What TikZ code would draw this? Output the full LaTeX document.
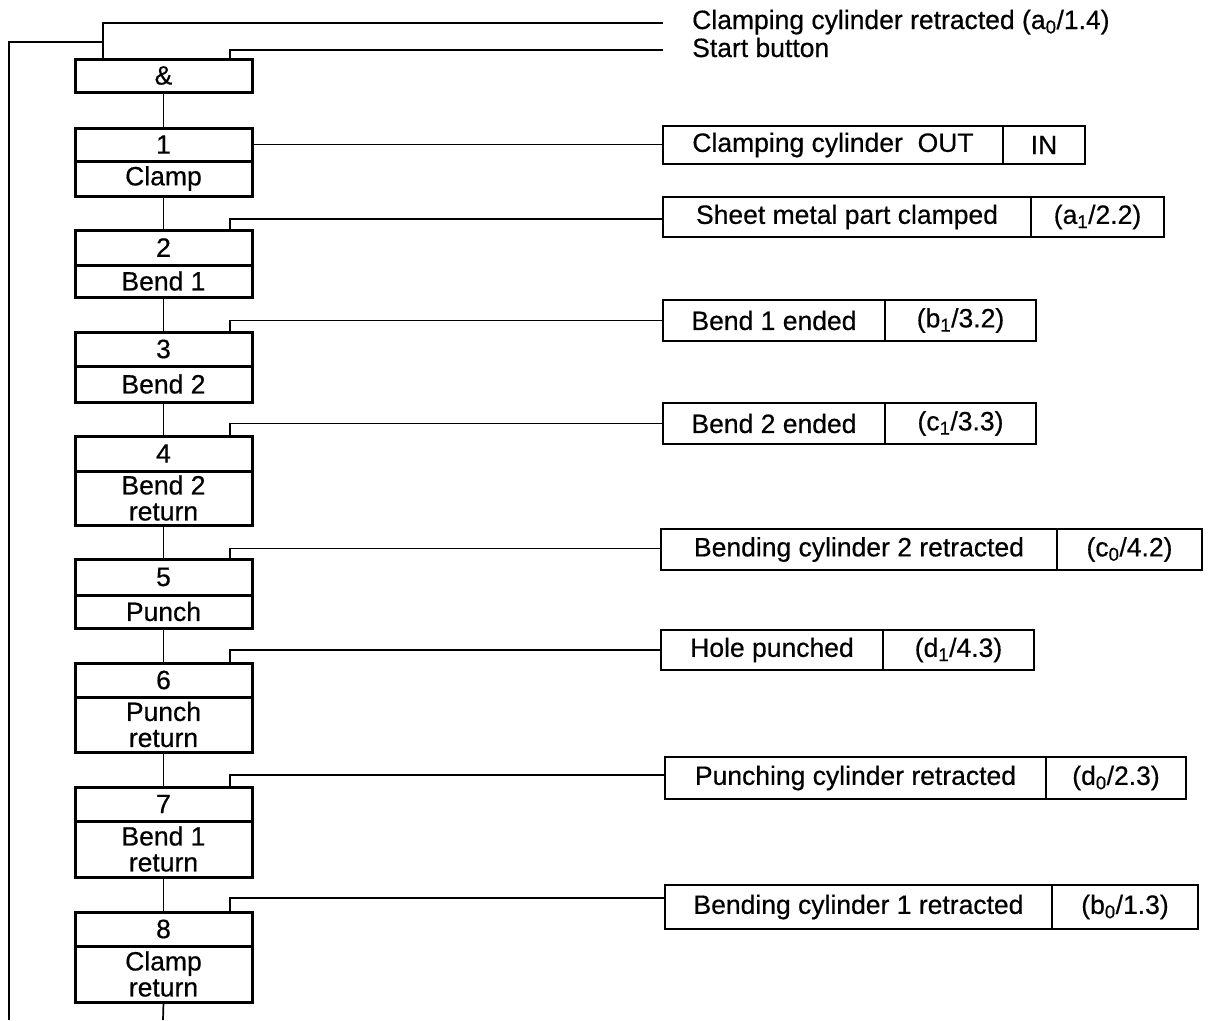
\documentclass[tikz,border=0pt]{standalone}
\usepackage{fontspec}
\setmainfont{Liberation Sans}[FakeBold=0.5]
\newcommand\dfont{\fontsize{26.5}{26}\selectfont}
\tikzset{
  every node/.style={font=\dfont},
  stepbox/.style={draw, line width=3pt, minimum width=177pt, inner sep=0pt, outer sep=0pt, anchor=north west, align=center},
  rbox/.style={draw, line width=2.8pt, inner sep=0pt, outer sep=0pt, anchor=north west, align=center},
  conn/.style={line width=1.7pt},
}
\begin{document}
\begin{tikzpicture}[x=1pt,y=-1pt]
\useasboundingbox (0,0) rectangle (1212,1020);
% step column
\node[stepbox, minimum height=33pt] (amp) at (75,59) {\&};
\node[stepbox, minimum height=33pt] (s1n) at (75,128) {1};
\node[stepbox, minimum height=35pt] (s1l) at (s1n.south west) {Clamp};
\node[stepbox, minimum height=35pt] (s2n) at (75,230) {2};
\node[stepbox, minimum height=32pt] (s2l) at (s2n.south west) {Bend 1};
\node[stepbox, minimum height=34pt] (s3n) at (75,332) {3};
\node[stepbox, minimum height=36pt] (s3l) at (s3n.south west) {Bend 2};
\node[stepbox, minimum height=35pt] (s4n) at (75,436) {4};
\node[stepbox, minimum height=54pt] (s4l) at (s4n.south west) {Bend 2\\return};
\node[stepbox, minimum height=36pt] (s5n) at (75,559) {5};
\node[stepbox, minimum height=33pt] (s5l) at (s5n.south west) {Punch};
\node[stepbox, minimum height=34pt] (s6n) at (75,663) {6};
\node[stepbox, minimum height=55pt] (s6l) at (s6n.south west) {Punch\\return};
\node[stepbox, minimum height=34pt] (s7n) at (75,787) {7};
\node[stepbox, minimum height=56pt] (s7l) at (s7n.south west) {Bend 1\\return};
\node[stepbox, minimum height=34pt] (s8n) at (75,912) {8};
\node[stepbox, minimum height=56pt] (s8l) at (s8n.south west) {Clamp\\return};
% vertical links
\draw[conn] (amp.south) -- (s1n.north);
\draw[conn] (s1l.south) -- (s2n.north);
\draw[conn] (s2l.south) -- (s3n.north);
\draw[conn] (s3l.south) -- (s4n.north);
\draw[conn] (s4l.south) -- (s5n.north);
\draw[conn] (s5l.south) -- (s6n.north);
\draw[conn] (s6l.south) -- (s7n.north);
\draw[conn] (s7l.south) -- (s8n.north);
\coordinate (bot) at (163,1020);
\draw[conn] (s8l.south) -- (bot);
% right boxes
\node[rbox, minimum width=340pt, minimum height=38pt] (r1a) at (663,126) {Clamping cylinder\ \ OUT};
\node[rbox, minimum width=82pt, minimum height=38pt] (r1b) at (r1a.north east) {IN};
\node[rbox, minimum width=368pt, minimum height=40pt] (r2a) at (663,197) {Sheet metal part clamped};
\node[rbox, minimum width=133pt, minimum height=40pt] (r2b) at (r2a.north east) {(a\textsubscript{1}/2.2)};
\node[rbox, minimum width=222pt, minimum height=41pt] (r3a) at (663,300) {Bend 1 ended};
\node[rbox, minimum width=151pt, minimum height=41pt] (r3b) at (r3a.north east) {(b\textsubscript{1}/3.2)};
\node[rbox, minimum width=222pt, minimum height=41pt] (r4a) at (663,403) {Bend 2 ended};
\node[rbox, minimum width=151pt, minimum height=41pt] (r4b) at (r4a.north east) {(c\textsubscript{1}/3.3)};
\node[rbox, minimum width=396pt, minimum height=41pt] (r5a) at (661,529) {Bending cylinder 2 retracted};
\node[rbox, minimum width=145pt, minimum height=41pt] (r5b) at (r5a.north east) {(c\textsubscript{0}/4.2)};
\node[rbox, minimum width=222pt, minimum height=40pt] (r6a) at (661,630) {Hole punched};
\node[rbox, minimum width=151pt, minimum height=40pt] (r6b) at (r6a.north east) {(d\textsubscript{1}/4.3)};
\node[rbox, minimum width=381pt, minimum height=42pt] (r7a) at (665,757) {Punching cylinder retracted};
\node[rbox, minimum width=140pt, minimum height=42pt] (r7b) at (r7a.north east) {(d\textsubscript{0}/2.3)};
\node[rbox, minimum width=387pt, minimum height=44pt] (r8a) at (665,885) {Bending cylinder 1 retracted};
\node[rbox, minimum width=146pt, minimum height=44pt] (r8b) at (r8a.north east) {(b\textsubscript{0}/1.3)};
% connectors to signal boxes
\draw[conn] (s1n.east) -- (s1n.east -| r1a.west);
\draw[conn] ([xshift=155pt]s2n.north west) |- ([yshift=-2pt]r2a.west);
\draw[conn] ([xshift=155pt]s3n.north west) |- (r3a.west);
\draw[conn] ([xshift=155pt]s4n.north west) |- (r4a.west);
\draw[conn] ([xshift=155pt]s5n.north west) |- ([yshift=1pt]r5a.west);
\draw[conn] ([xshift=155pt]s6n.north west) |- (r6a.west);
\draw[conn] ([xshift=155pt]s7n.north west) |- ([yshift=3pt]r7a.west);
\draw[conn] ([xshift=155pt]s8n.north west) |- ([yshift=9pt]r8a.west);
% start conditions
\coordinate (te) at (663,23);
\coordinate (se) at (663,50);
\node[anchor=base west, inner sep=0pt] (lblA) at (692,29) {Clamping cylinder retracted (a\textsubscript{0}/1.4)};
\node[anchor=base west, inner sep=0pt] (lblS) at (692,57) {Start button};
\draw[conn] ([xshift=28pt]amp.north west) |- (te);
\draw[conn] ([xshift=155pt]amp.north west) |- (se);
% feedback line
\coordinate (fbB) at (9,1020);
\coordinate (fbT) at (9,42);
\coordinate (fbJ) at (103,42);
\draw[conn] (fbB) -- (fbT) -- (fbJ);
\end{tikzpicture}
\end{document}
